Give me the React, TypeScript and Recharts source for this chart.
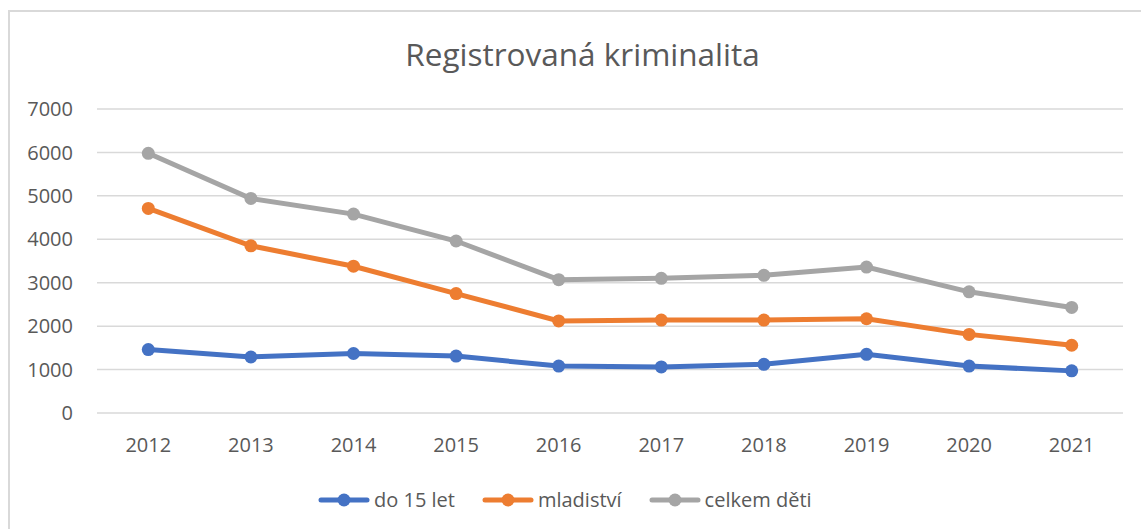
import { CartesianGrid, Legend, Line, LineChart, XAxis, YAxis } from "recharts";

const years = ["2012", "2013", "2014", "2015", "2016", "2017", "2018", "2019", "2020", "2021"];
const do15Let = [1460, 1290, 1370, 1310, 1080, 1060, 1120, 1350, 1080, 970];
const mladistvi = [4710, 3850, 3380, 2750, 2120, 2140, 2140, 2170, 1810, 1560];
const celkemDeti = [5980, 4940, 4580, 3960, 3070, 3100, 3170, 3360, 2790, 2430];
const yTicks = [0, 1000, 2000, 3000, 4000, 5000, 6000, 7000];

const series = [
  { key: "do15", name: "do 15 let", color: "#4472C4", values: do15Let },
  { key: "mlad", name: "mladiství", color: "#ED7D31", values: mladistvi },
  { key: "celk", name: "celkem děti", color: "#A5A5A5", values: celkemDeti },
];

const data = years.map((year, i) => ({
  year,
  do15: do15Let[i],
  mlad: mladistvi[i],
  celk: celkemDeti[i],
}));

const font = "'Open Sans', sans-serif";
const textColor = "#595959";

function LegendContent() {
  return (
    <div style={{ display: "flex", alignItems: "center", fontFamily: font, fontSize: 20, color: textColor }}>
      {series.map((s, i) => (
        <div key={s.key} style={{ display: "flex", alignItems: "center", marginLeft: i === 0 ? 0 : 27 }}>
          <svg width={52} height={16} style={{ marginRight: 4 }}>
            <line x1={3} y1={8} x2={49} y2={8} stroke={s.color} strokeWidth={5} strokeLinecap="round" />
            <circle cx={26} cy={8} r={6.5} fill={s.color} />
          </svg>
          <span>{s.name}</span>
        </div>
      ))}
    </div>
  );
}

export default function App() {
  return (
    <div style={{ position: "absolute", left: 0, top: 0, width: 1141, height: 529, overflow: "hidden", background: "#fff" }}>
      <div
        style={{
          position: "absolute",
          left: 8,
          top: 10,
          width: 1200,
          height: 600,
          borderLeft: "2px solid #d9d9d9",
          borderTop: "2px solid #d9d9d9",
        }}
      />
      <div
        style={{
          position: "absolute",
          left: 0,
          width: 1165,
          top: 32,
          textAlign: "center",
          fontFamily: font,
          fontSize: 31.5,
          color: textColor,
        }}
      >
        Registrovaná kriminalita
      </div>
      <div style={{ position: "absolute", left: 0, top: 0 }}>
        <LineChart width={1141} height={529} data={data} margin={{ top: 109, right: 18, left: 0, bottom: 86 }}>
          <CartesianGrid vertical={false} stroke="#d9d9d9" strokeWidth={1.5} />
          <XAxis
            dataKey="year"
            axisLine={false}
            tickLine={false}
            tickSize={0}
            tickMargin={25}
            height={30}
            padding={{ left: 51.3, right: 51.3 }}
            tick={{ fill: textColor, fontSize: 20, fontFamily: font }}
          />
          <YAxis
            domain={[0, 7000]}
            ticks={yTicks}
            width={97}
            axisLine={false}
            tickLine={false}
            tickSize={0}
            tickMargin={24}
            tick={{ fill: textColor, fontSize: 20, fontFamily: font }}
          />
          <Legend
            layout="horizontal"
            verticalAlign="middle"
            align="center"
            content={<LegendContent />}
            wrapperStyle={{ top: 486, left: 318, width: "auto" }}
          />
          {series.map((s) => (
            <Line
              key={s.key}
              dataKey={s.key}
              name={s.name}
              stroke={s.color}
              strokeWidth={5}
              dot={{ r: 6.5, fill: s.color, stroke: s.color, strokeWidth: 0 }}
              activeDot={false}
              isAnimationActive={false}
            />
          ))}
        </LineChart>
      </div>
    </div>
  );
}
